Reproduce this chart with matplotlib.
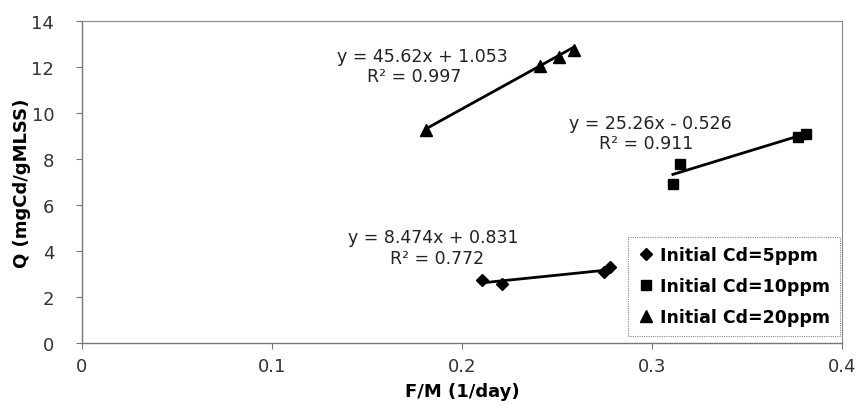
import matplotlib

matplotlib.use("Agg")
import matplotlib.pyplot as plt
import numpy as np

plt.rcParams["font.family"] = ["DejaVu Sans"]

# data
x_5ppm = [0.2105, 0.221, 0.275, 0.278]
q_5ppm = [2.72, 2.57, 3.08, 3.30]
x_10ppm = [0.311, 0.315, 0.377, 0.381]
q_10ppm = [6.92, 7.78, 8.97, 9.09]
x_20ppm = [0.181, 0.241, 0.251, 0.259]
q_20ppm = [9.25, 12.05, 12.45, 12.75]

labels = ["Initial Cd=5ppm", "Initial Cd=10ppm", "Initial Cd=20ppm"]
slopes = [8.474, 25.26, 45.62]
intercepts = [0.831, -0.526, 1.053]
eq_texts = ["y = 8.474x + 0.831", "y = 25.26x - 0.526", "y = 45.62x + 1.053"]
r2_texts = ["R² = 0.772", "R² = 0.911", "R² = 0.997"]
eq_pos = [(0.185, 4.6), (0.299, 9.57), (0.179, 12.5)]
r2_pos = [(0.187, 3.68), (0.297, 8.68), (0.175, 11.6)]

x_ticks = [0, 0.1, 0.2, 0.3, 0.4]
x_tick_labels = ["0", "0.1", "0.2", "0.3", "0.4"]
y_ticks = [0, 2, 4, 6, 8, 10, 12, 14]

fig = plt.figure(figsize=(8.62, 4.06), dpi=100)
ax = fig.add_axes([0.0951, 0.1527, 0.8817, 0.7931])

series = [(x_5ppm, q_5ppm, "D", 6.5), (x_10ppm, q_10ppm, "s", 7.5), (x_20ppm, q_20ppm, "^", 9)]
for (xs, qs, marker, size), label, m, b in zip(series, labels, slopes, intercepts):
    ax.plot(xs, qs, linestyle="none", marker=marker, markersize=size,
            color="black", label=label, zorder=3)
    xl = np.array([min(xs), max(xs)])
    ax.plot(xl, m * xl + b, color="black", linewidth=2, zorder=2)

for eq, r2, (ex, ey), (rx, ry) in zip(eq_texts, r2_texts, eq_pos, r2_pos):
    ax.text(ex, ey, eq, ha="center", va="center", fontsize=12.5, color="#222222")
    ax.text(rx, ry, r2, ha="center", va="center", fontsize=12.5, color="#222222")

ax.set_xlim(0, 0.4)
ax.set_ylim(0, 14)
ax.set_xticks(x_ticks)
ax.set_xticklabels(x_tick_labels)
ax.set_yticks(y_ticks)
ax.tick_params(axis="both", direction="out", length=4, width=0.8,
               colors="#777777", labelcolor="#333333", labelsize=13)
ax.tick_params(axis="x", pad=6)
ax.tick_params(axis="y", pad=16)

for side in ["left", "bottom"]:
    ax.spines[side].set_color("#777777")
    ax.spines[side].set_linewidth(1)
for side in ["top", "right"]:
    ax.spines[side].set_color("#888888")
    ax.spines[side].set_linestyle((0, (1, 1)))
    ax.spines[side].set_linewidth(0.8)

ax.set_xlabel("F/M (1/day)", fontsize=13, fontweight="bold", labelpad=5)
ax.set_ylabel("Q (mgCd/gMLSS)", fontsize=13, fontweight="bold", labelpad=0)

leg = ax.legend(loc="lower right", bbox_to_anchor=(0.997, 0.022),
                prop={"weight": "bold", "size": 12.5}, handletextpad=0.3,
                handlelength=1.0, borderpad=0.55, labelspacing=0.75,
                borderaxespad=0, fancybox=False, framealpha=1, edgecolor="#888888")
leg.get_frame().set_linestyle((0, (1, 1)))
leg.get_frame().set_linewidth(0.8)

fig.savefig("out.png", dpi=100)
